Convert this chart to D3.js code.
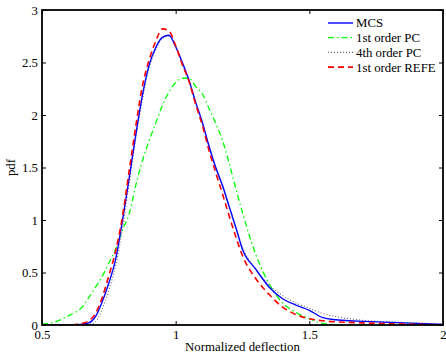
<!DOCTYPE html>
<html><head><meta charset="utf-8">
<script src="https://cdn.jsdelivr.net/npm/d3@7"></script>
<style>body{margin:0;background:#fff}svg{display:block}text{font-family:"Liberation Serif","Times New Roman",serif;}</style>
</head><body><svg id="c" width="446" height="353"></svg>
<script>
const xs = [0.50,0.55,0.60,0.625,0.65,0.675,0.70,0.725,0.75,0.775,0.80,0.825,0.85,0.875,0.90,0.925,0.95,0.975,1.00,1.025,1.05,1.075,1.10,1.125,1.15,1.175,1.20,1.225,1.25,1.30,1.35,1.40,1.45,1.50,1.55,1.60,1.65,1.70,1.80,1.90,2.00];
const mcs = [0,0,0,0.003,0.008,0.02,0.08,0.22,0.40,0.62,0.98,1.38,1.80,2.18,2.47,2.64,2.74,2.76,2.65,2.50,2.33,2.12,1.93,1.70,1.50,1.33,1.13,0.93,0.72,0.53,0.36,0.25,0.19,0.14,0.07,0.05,0.04,0.035,0.025,0.015,0.005];
const pc1 = [0.01,0.03,0.09,0.12,0.17,0.26,0.36,0.46,0.59,0.72,0.90,1.05,1.32,1.56,1.75,1.92,2.09,2.22,2.31,2.35,2.35,2.27,2.20,2.06,1.92,1.76,1.54,1.30,1.07,0.67,0.39,0.21,0.12,0.06,0.015,0.003,0,0,0,0,0];
const pc4 = [0,0,0,0,0,0.003,0.03,0.15,0.33,0.56,0.90,1.33,1.76,2.14,2.44,2.62,2.73,2.75,2.65,2.48,2.32,2.11,1.92,1.70,1.50,1.32,1.12,0.92,0.74,0.53,0.38,0.28,0.21,0.16,0.11,0.08,0.06,0.045,0.03,0.02,0.01];
const refe = [0,0,0,0.005,0.015,0.04,0.11,0.26,0.47,0.70,1.02,1.45,1.88,2.27,2.52,2.70,2.82,2.80,2.66,2.48,2.32,2.10,1.90,1.66,1.45,1.25,1.04,0.84,0.66,0.44,0.29,0.17,0.10,0.06,0.04,0.03,0.025,0.02,0.012,0.006,0.002];
const xTicks = [0.5,1,1.5,2];
const yTicks = [0,0.5,1,1.5,2,2.5,3];
const seriesNames = ["MCS","1st order PC","4th order PC","1st order REFE"];

const FS = 12.8;
const svg = d3.select("#c");
const L=42,R=443,T=10,B=325;
const x = d3.scaleLinear().domain([0.5,2]).range([L,R]);
const y = d3.scaleLinear().domain([0,3]).range([B,T]);
const styles = [
  {data:mcs, color:"#0000ff", w:1.4, dash:null},
  {data:pc1, color:"#00ff00", w:1.3, dash:"6,3,1.5,3"},
  {data:pc4, color:"#666666", w:1.1, dash:"1,2"},
  {data:refe, color:"#ff0000", w:1.6, dash:"6,4"}
];
const line = d3.line().x((d,i)=>x(xs[i])).y(d=>y(d)).curve(d3.curveMonotoneX);
const g = svg.append("g");
g.append("defs").append("clipPath").attr("id","clip").append("rect").attr("x",L).attr("y",T).attr("width",R-L).attr("height",B-T);
const plot = g.append("g").attr("clip-path","url(#clip)");
[2,1,0,3].forEach(k=>{
  const s=styles[k];
  plot.append("path").attr("d",line(s.data)).attr("fill","none").attr("stroke",s.color)
    .attr("stroke-width",s.w).attr("stroke-dasharray",s.dash);
});
const fmt = d=>String(d);
const ax = g.append("g");
const xb = ax.append("g").attr("transform",`translate(0,${B})`).call(d3.axisBottom(x).tickValues(xTicks).tickSize(-4).tickPadding(6).tickFormat(fmt));
const xt = ax.append("g").attr("transform",`translate(0,${T})`).call(d3.axisTop(x).tickValues(xTicks).tickSize(-4).tickFormat(""));
const yl = ax.append("g").attr("transform",`translate(${L},0)`).call(d3.axisLeft(y).tickValues(yTicks).tickSize(-4).tickPadding(4).tickFormat(fmt));
const yr = ax.append("g").attr("transform",`translate(${R},0)`).call(d3.axisRight(y).tickValues(yTicks).tickSize(-4).tickFormat(""));
[xb,xt,yl,yr].forEach(a=>{
  a.select(".domain").remove();
  a.selectAll("line").attr("stroke","#000").attr("stroke-width",1);
  a.selectAll("text").attr("fill","#000").attr("font-family","Liberation Serif, serif").attr("font-size",FS);
});
xb.selectAll("text").attr("dy","0.62em");
g.append("rect").attr("x",L).attr("y",T).attr("width",R-L).attr("height",B-T).attr("fill","none").attr("stroke","#000").attr("stroke-width",1.8);
g.append("text").attr("x",(L+R)/2).attr("y",351).attr("text-anchor","middle").attr("font-size",FS).text("Normalized deflection");
g.append("text").attr("transform",`translate(15,${(T+B)/2}) rotate(-90)`).attr("text-anchor","middle").attr("font-size",FS).text("pdf");
const lg = g.append("g");
seriesNames.forEach((n,i)=>{
  const s=styles[i]; const yy = 23 + i*14.7;
  lg.append("line").attr("x1",328).attr("x2",353).attr("y1",yy).attr("y2",yy)
    .attr("stroke",s.color).attr("stroke-width",s.w).attr("stroke-dasharray",s.dash);
  lg.append("text").attr("x",356).attr("y",yy).attr("dy","0.35em").attr("font-size",FS).text(n);
});
</script></body></html>
